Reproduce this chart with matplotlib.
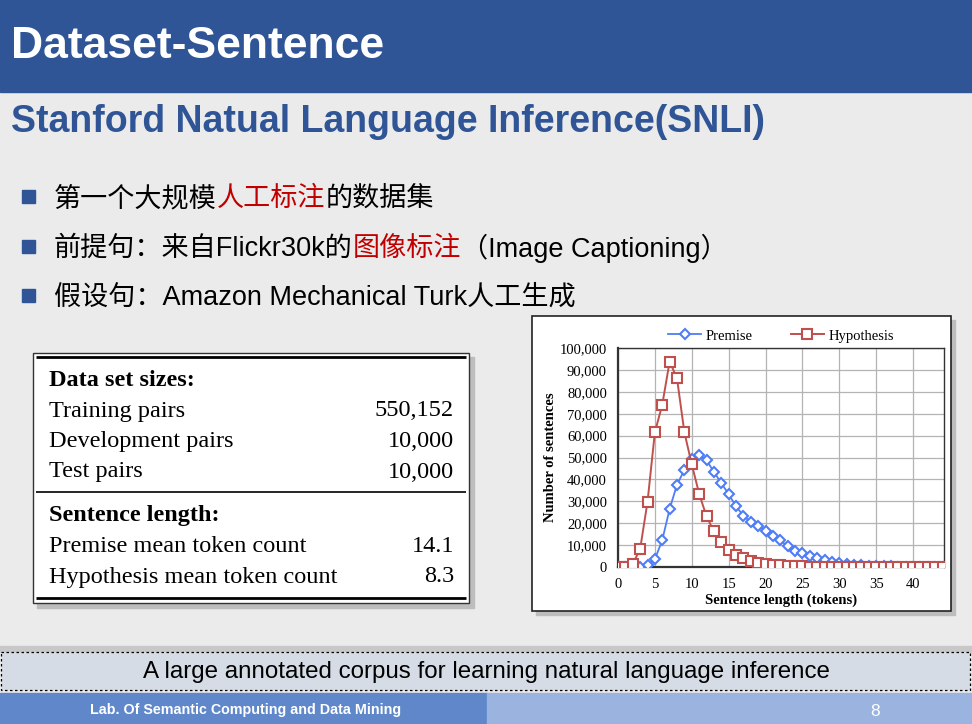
import matplotlib
matplotlib.use("Agg")
import matplotlib.pyplot as plt
from matplotlib.patches import Rectangle
from matplotlib.ticker import FuncFormatter, MultipleLocator

# ---- data ----
sent_len = list(range(45))
premise = [0, 0, 0, 0, 1000, 3500, 12300, 26500, 37600, 44300,
           49500, 51000, 48700, 43500, 38300, 33300, 27700, 23400, 20500, 18900,
           16600, 14000, 12200, 9500, 7500, 6400, 5200, 4000, 3000, 2400,
           2000, 1500, 1100, 800, 600, 500, 400, 300, 200, 150,
           100, 100, 100, 100, 50]
hypothesis = [0, 0, 1400, 8200, 29700, 61500, 74100, 93800, 86100, 61500,
              46900, 33500, 23100, 16300, 11300, 7800, 5600, 4000, 2600, 1800,
              1400, 900, 700, 500, 400, 300, 200, 150, 100, 100,
              80, 60, 50, 40, 30, 20, 20, 10, 10, 10,
              10, 10, 10, 10, 10]

size_rows = ["Training pairs", "Development pairs", "Test pairs"]
size_vals = ["550,152", "10,000", "10,000"]
len_rows = ["Premise mean token count", "Hypothesis mean token count"]
len_vals = ["14.1", "8.3"]

title = "Dataset-Sentence"
subtitle = "Stanford Natual Language Inference(SNLI)"
bullets = [
    [("第一个大规模", "black"), ("人工标注", "#C00000"), ("的数据集", "black")],
    [("前提句：来自Flickr30k的", "black"), ("图像标注", "#C00000"),
     ("（Image Captioning）", "black")],
    [("假设句：Amazon Mechanical Turk人工生成", "black")],
]
banner = "A large annotated corpus for learning natural language inference"
footer_left = "Lab. Of Semantic Computing and Data Mining"
page_no = "8"

BLUE = "#2F5597"
W, H = 972, 724

fig = plt.figure(figsize=(W / 100, H / 100), dpi=100)
fig.patch.set_facecolor("#EBEBEB")

# slide canvas in pixel coordinates
bg = fig.add_axes([0, 0, 1, 1])
bg.set_xlim(0, W)
bg.set_ylim(H, 0)
bg.axis("off")

sans = ["Liberation Sans", "Noto Sans CJK SC", "DejaVu Sans"]
serif = ["Liberation Serif", "DejaVu Serif"]

# header
bg.add_patch(Rectangle((0, 0), W, 92, color=BLUE, zorder=1))
bg.text(11, 46, title, color="white", fontsize=32, fontweight="bold",
        family=sans, va="center", ha="left", zorder=2)
bg.text(11, 122, subtitle, color=BLUE, fontsize=27, fontweight="bold",
        family=sans, va="center", ha="left")

# bullets
renderer = fig.canvas.get_renderer()
for i, parts in enumerate(bullets):
    y = 197 + i * 49.5
    bg.add_patch(Rectangle((22, y - 7), 13, 13, color=BLUE))
    x = 54
    for s, c in parts:
        t = bg.text(x, y + 2, s, color=c, fontsize=19.5, family=sans,
                    va="center", ha="left")
        x += t.get_window_extent(renderer).width

# table box with shadow
bg.add_patch(Rectangle((37, 357), 437, 251, color="#BDBDBD", zorder=1))
bg.add_patch(Rectangle((33, 353), 436, 250, facecolor="white",
                       edgecolor="#333333", lw=1, zorder=2))
for yy, lw in [(357, 2.0), (492, 1.2), (598, 2.0)]:
    bg.plot([36, 466], [yy, yy], color="black", lw=lw, zorder=3,
            solid_capstyle="butt")
tkw = dict(fontsize=17.5, family=serif, va="center", zorder=4)
bg.text(49, 381, "Data set sizes:", fontweight="bold", ha="left", **tkw)
for k, (r, v) in enumerate(zip(size_rows, size_vals)):
    bg.text(49, 411 + 30.5 * k, r, ha="left", **tkw)
    bg.text(454, 411 + 30.5 * k, v, ha="right", **tkw)
bg.text(49, 516, "Sentence length:", fontweight="bold", ha="left", **tkw)
for k, (r, v) in enumerate(zip(len_rows, len_vals)):
    bg.text(49, 546 + 31 * k, r, ha="left", **tkw)
    bg.text(454, 546 + 31 * k, v, ha="right", **tkw)

# chart box
bg.add_patch(Rectangle((536, 320), 419, 295, color="#BDBDBD", zorder=1))
bg.add_patch(Rectangle((532, 316), 419, 295, facecolor="white",
                       edgecolor="#222222", lw=1.2, zorder=2))

# banner and footer
bg.add_patch(Rectangle((0, 646), W, 6, color="#C8C8C8", zorder=1))
bg.add_patch(Rectangle((1, 652), W - 3, 38, facecolor="#D6DCE5",
                       edgecolor="black", lw=0.9, ls=(0, (2, 2)), zorder=2))
bg.text(W / 2, 672, banner, fontsize=17.4, family=sans, ha="center",
        va="center", zorder=3)
bg.add_patch(Rectangle((0, 693), 487, 31, color="#5F87CA", zorder=2))
bg.add_patch(Rectangle((487, 693), W - 487, 31, color="#9AB3DF", zorder=2))
bg.text(90, 710, footer_left, color="white", fontsize=10.3, fontweight="bold",
        family=sans, ha="left", va="center", zorder=3)
bg.text(875, 711, page_no, color="white", fontsize=12.5, family=sans,
        ha="center", va="center", zorder=3)

# the line chart
x0, x1, y0, y1 = 618, 944, 348, 567
ax = fig.add_axes([x0 / W, 1 - y1 / H, (x1 - x0) / W, (y1 - y0) / H])
ax.set_zorder(5)
ax.plot(sent_len, premise, color="#4F7DF5", lw=1.3, marker="D", ms=5.5,
        mfc="white", mec="#4F7DF5", mew=1.5, label="Premise", zorder=3)
ax.plot(sent_len, hypothesis, color="#C0504D", lw=1.4, marker="s", ms=7,
        mfc="white", mec="#C0504D", mew=1.5, label="Hypothesis", zorder=4)
ax.set_xlim(0, 44.2)
ax.set_ylim(0, 100000)
ax.yaxis.set_major_locator(MultipleLocator(10000))
ax.set_xticks(range(0, 41, 5))
ax.yaxis.set_major_formatter(FuncFormatter(lambda v, p: f"{int(v):,}"))
ax.grid(True, color="#B4B4B4", lw=0.9)
ax.set_axisbelow(True)
for sp in ax.spines.values():
    sp.set_color("#333333")
    sp.set_linewidth(1.0)
ax.spines["left"].set_linewidth(1.6)
ax.spines["bottom"].set_linewidth(1.6)
ax.tick_params(length=0, labelsize=10.5)
ax.tick_params(axis="y", pad=8)
ax.tick_params(axis="x", pad=8)
for lab in ax.get_xticklabels() + ax.get_yticklabels():
    lab.set_family(serif)
ax.set_xlabel("Sentence length (tokens)", fontsize=10.5, fontweight="bold",
              family=serif, labelpad=2)
ax.set_ylabel("Number of sentences", fontsize=10.5, fontweight="bold",
              family=serif, labelpad=2)
ax.legend(loc="lower center", bbox_to_anchor=(0.5, 0.985), ncol=2,
          frameon=False, prop={"family": serif, "size": 10.5},
          handlelength=2.3, columnspacing=2.6, handletextpad=0.3,
          borderaxespad=0.2)

fig.savefig("out.png", dpi=100, facecolor=fig.get_facecolor())
